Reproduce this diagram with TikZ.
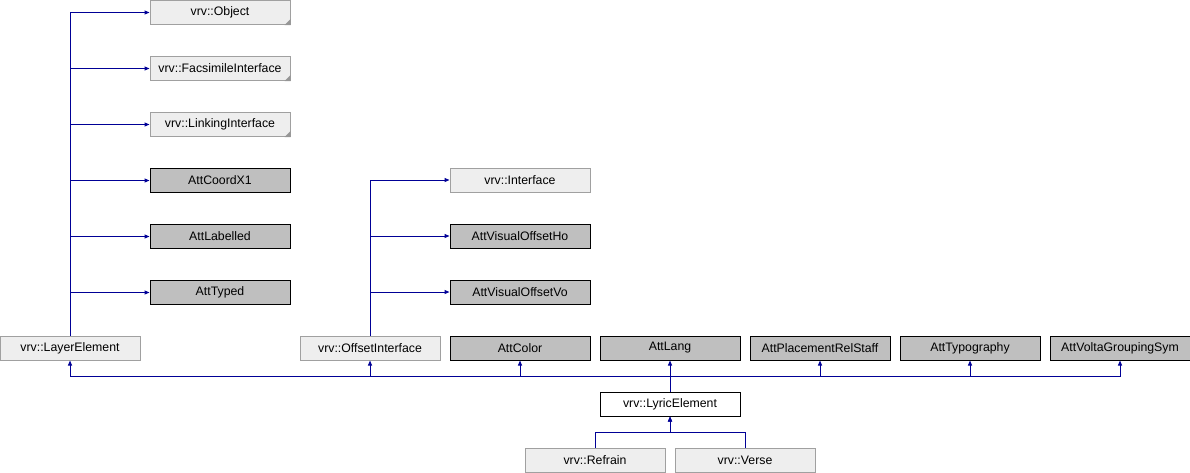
\documentclass[tikz,border=0pt]{standalone}
\usepackage{fontspec}
\setmainfont{Liberation Sans}
\usetikzlibrary{arrows.meta}

\begin{document}
\begin{tikzpicture}[x=1pt, y=-1pt, node distance=56pt]
        \tikzstyle{cls} = [draw, line width=1pt, minimum width=140pt, minimum height=24pt, inner sep=0pt, font=\fontsize{12.3}{14}\selectfont];
        \tikzstyle{ext} = [cls, fill={rgb,255:red,238;green,238;blue,238}, draw={rgb,255:red,160;green,160;blue,160}];
        \tikzstyle{att} = [cls, fill={rgb,255:red,191;green,191;blue,191}, draw=black];
        \tikzstyle{main} = [cls, fill=white, draw=black];
        \tikzstyle{edge} = [line width=1pt, draw={rgb,255:red,0;green,0;blue,150}, -{Triangle[length=5pt,width=4pt]}];
        \tikzstyle{fold} = [fill={rgb,255:red,150;green,150;blue,150}];
        \useasboundingbox (0,0) rectangle (1190,472);

        % left column
        \node [ext] (obj) at (220,12.5) {vrv::Object};
        \node [ext, below of=obj] (facs) {vrv::FacsimileInterface};
        \node [ext, below of=facs] (link) {vrv::LinkingInterface};
        \node [att, below of=link] (coordx) {AttCoordX1};
        \node [att, below of=coordx] (labelled) {AttLabelled};
        \node [att, below of=labelled] (typed) {AttTyped};
        \foreach \n in {obj, facs, link}
            \fill [fold] (\n.south east) -- ++(-6,0) -- ++(6,-6) -- cycle;

        % middle column
        \node [ext] (iface) at (520,180) {vrv::Interface};
        \node [att, below of=iface] (offho) {AttVisualOffsetHo};
        \node [att, below of=offho] (offvo) {AttVisualOffsetVo};

        % base classes row
        \node [ext] (layer) at (70,348) {vrv::LayerElement};
        \node [ext] (offset) at (370,348) {vrv::OffsetInterface};
        \node [att] (color) at (520,348) {AttColor};
        \node [att] (lang) at (670,348) {AttLang};
        \node [att] (placement) at (820,348) {AttPlacementRelStaff};
        \node [att] (typo) at (970,348) {AttTypography};
        \node [att] (volta) at (1120,348) {AttVoltaGroupingSym};

        \node [main] (lyric) at (670,404) {vrv::LyricElement};
        \node [ext] (refrain) at (595,460) {vrv::Refrain};
        \node [ext] (verse) at (745,460) {vrv::Verse};

        \coordinate (bus) at (670,376);
        \coordinate (sub) at (670,432);

        \foreach \p in {obj, facs, link, coordx, labelled, typed}
            \draw [edge] (layer.north) |- (\p.west);
        \foreach \p in {iface, offho, offvo}
            \draw [edge] (offset.north) |- (\p.west);
        \foreach \p in {layer, offset, color, lang, placement, typo, volta}
            \draw [edge] (lyric.north) -- (bus) -| (\p.south);
        \foreach \c in {refrain, verse}
            \draw [edge] (\c.north) |- (sub) -- (lyric.south);
    \end{tikzpicture}
\end{document}
